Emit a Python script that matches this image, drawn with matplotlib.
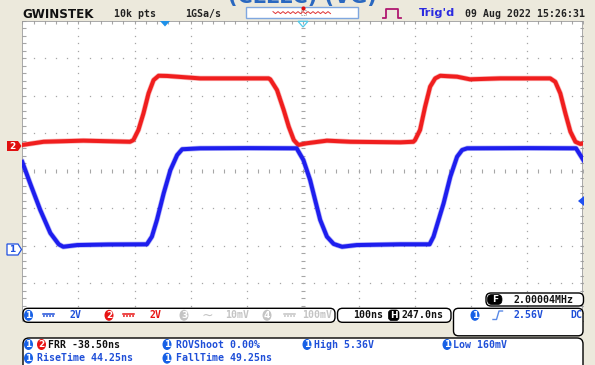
import numpy as np
import matplotlib
matplotlib.use("Agg")
import matplotlib.pyplot as plt
from matplotlib.patches import FancyBboxPatch, Ellipse, Polygon, Rectangle

# ---------------- data ----------------
# CH1 (blue) : time in ns relative to trigger, volts
ch1_t = [-253, -239, -221, -203, -188, -180, -155, -100, -31, -22, -13, -1, 11, 23, 32,
         64, 150, 236, 248, 260, 269, 278, 290, 302, 317, 343, 421, 473, 480, 489, 498,
         510, 522, 531, 540, 650, 734, 747]
ch1_v = [4.56, 3.42, 2.00, 0.77, 0.17, 0.04, 0.13, 0.16, 0.17, 0.58, 1.47, 2.89, 4.13, 4.93, 5.24,
         5.29, 5.30, 5.29, 4.67, 3.60, 2.53, 1.47, 0.58, 0.19, 0.04, 0.13, 0.17, 0.17, 0.58, 1.47, 2.36,
         3.78, 4.84, 5.20, 5.29, 5.30, 5.29, 4.67]
# CH2 (red)
ch2_t = [-253, -215, -144, -61, -55, -46, -37, -28, -19, -10, 5, 64, 186, 189, 201, 213, 222,
         231, 239, 254, 290, 332, 421, 444, 447, 456, 465, 474, 483, 492, 522, 545, 599, 688,
         697, 706, 715, 724, 733, 742, 747]
ch2_v = [0.04, 0.21, 0.27, 0.21, 0.30, 0.84, 1.73, 2.79, 3.50, 3.73, 3.72, 3.59, 3.59, 3.54, 2.97, 1.90, 1.01,
         0.30, 0.04, 0.13, 0.27, 0.21, 0.18, 0.21, 0.30, 0.84, 2.08, 3.15, 3.59, 3.73, 3.68, 3.54, 3.59, 3.59,
         3.41, 2.79, 1.73, 0.75, 0.21, 0.09, 0.13]

channel_ids = ["1", "2", "3", "4"]
channel_scales = ["2V", "2V", "10mV", "100mV"]
timebase = "100ns"
h_position = "247.0ns"
trigger_level = "2.56V"
trigger_coupling = "DC"
frequency = "2.00004MHz"
meas_row1 = [("12", "FRR -38.50ns"), ("1", "ROVShoot 0.00%"), ("1", "High 5.36V"), ("1", "Low 160mV")]
meas_row2 = [("1", "RiseTime 44.25ns"), ("1", "FallTime 49.25ns")]
header = ["10k pts", "1GSa/s", "Trig'd", "09 Aug 2022 15:26:31"]

# screen scales
time_window = (-253, 747)        # ns across 10 divisions
ch1_ylim = (-3.904, 12.096)      # 2 V/div, 8 divisions
ch2_ylim = (-9.333, 6.667)

# ---------------- styling ----------------
W, H = 595, 365
BEIGE = "#ECE9DC"
BLUE = "#1F4FD8"
BADGE_BLUE = "#1660E6"
RED = "#E81414"
GRAY = "#C4C4C4"
GRID = "#A6A6A6"
MONO = dict(family="DejaVu Sans Mono", fontweight="bold", fontsize=7.1)

fig = plt.figure(figsize=(W / 100, H / 100), dpi=100, facecolor=BEIGE)
gx0, gx1, gy0, gy1 = 22.3, 583.3, 20.7, 320.7
rect = [gx0 / W, 1 - gy1 / H, (gx1 - gx0) / W, (gy1 - gy0) / H]

# graticule
ax_g = fig.add_axes(rect, zorder=1)
ax_g.set_xlim(0, 10)
ax_g.set_ylim(-4, 4)
ax_g.set_facecolor("white")
ax_g.set_xticks([])
ax_g.set_yticks([])
for s in ax_g.spines.values():
    s.set_visible(False)
hminor = np.arange(0, 10.001, 0.2)
vminor = np.arange(-4, 4.001, 0.2)
for k in range(1, 10):
    if k != 5:
        ax_g.plot(np.full(vminor.size, k), vminor, ls="none", marker="s", ms=0.9, mew=0, color=GRID)
for j in range(-3, 4):
    if j != 0:
        ax_g.plot(hminor, np.full(hminor.size, j), ls="none", marker="s", ms=0.9, mew=0, color=GRID)
ax_g.plot(np.full(vminor.size, 5), vminor, ls="none", marker="_", ms=2.6, mew=0.8, color=GRID)
ax_g.plot(hminor, np.zeros(hminor.size), ls="none", marker="|", ms=2.6, mew=0.8, color=GRID)
ax_g.plot(np.full(vminor.size, 0.03), vminor, ls="none", marker="_", ms=2.6, mew=0.8, color=GRID)
ax_g.plot(np.full(vminor.size, 9.97), vminor, ls="none", marker="_", ms=2.6, mew=0.8, color=GRID)
ax_g.plot(hminor, np.full(hminor.size, 3.955), ls="none", marker="|", ms=2.6, mew=0.8, color=GRID)
ax_g.axvline(0, color="#9A9A9A", lw=1.2)
ax_g.axvline(10, color="#9A9A9A", lw=1.2)
ax_g.axhline(4, color="#9A9A9A", lw=1.2)

# traces
ax2 = fig.add_axes(rect, zorder=2)
ax2.set_xlim(*time_window)
ax2.set_ylim(*ch2_ylim)
ax2.axis("off")
ax2.plot(ch2_t, ch2_v, color="#F03030", lw=3.9, alpha=0.35, solid_joinstyle="round")
ax2.plot(ch2_t, ch2_v, color="#F01E1E", lw=2.9, solid_joinstyle="round")

ax1 = fig.add_axes(rect, zorder=3)
ax1.set_xlim(*time_window)
ax1.set_ylim(*ch1_ylim)
ax1.axis("off")
ax1.plot(ch1_t, ch1_v, color="#3030F0", lw=3.9, alpha=0.35, solid_joinstyle="round")
ax1.plot(ch1_t, ch1_v, color="#1E1EEE", lw=2.9, solid_joinstyle="round")

# ---------------- overlay (screen chrome, pixel coordinates) ----------------
ov = fig.add_axes([0, 0, 1, 1], zorder=10)
ov.set_xlim(0, W)
ov.set_ylim(H, 0)
ov.axis("off")


def rbox(x, y, w, h, r, fc="white", ec="black", lw=1.0):
    ov.add_patch(FancyBboxPatch((x, y), w, h, boxstyle=f"round,pad=0,rounding_size={r}",
                                fc=fc, ec=ec, lw=lw))


def badge(x, y, n, fc):
    ov.add_patch(Ellipse((x, y), 9, 11, fc=fc, ec="none"))
    ov.text(x, y + 0.3, n, color="white", ha="center", va="center", fontsize=6.5,
            fontweight="bold", family="DejaVu Sans")


def coupling(x, y, c):
    ov.plot([x, x + 11], [y - 1.2, y - 1.2], color=c, lw=1.1)
    ov.plot([x, x + 11], [y + 0.6, y + 0.6], color=c, lw=1.1, ls=(0, (1.2, 0.8)))


# partial title of the page above the screenshot (cropped at the top edge)
ov.text(228, 3.2, "(CLLLC) (VG)", color="#2A68C0", fontsize=15, fontweight="bold",
        ha="left", va="baseline", family="DejaVu Sans")

# header bar
ov.text(22, 14, "GWINSTEK", color="#111111", fontsize=8.6, fontweight="bold", ha="left",
        va="center", family="DejaVu Sans")
ov.text(114.3, 14, header[0], color="#222222", ha="left", va="center", **MONO)
ov.text(185, 14, header[1], color="#222222", ha="left", va="center", **MONO)
ov.add_patch(Rectangle((246, 7), 112, 10.5, fc="white", ec="#7FA7E0", lw=1.0))
zx = np.arange(273, 331, 2.5)
ov.plot(zx, np.where(np.arange(zx.size) % 2 == 0, 11.6, 13.6), color="#E03535", lw=0.7)
ov.add_patch(Rectangle((300.5, 9.5), 5, 5, fc="none", ec="#888888", lw=0.6, ls=(0, (1, 1))))
ov.plot([303], [8.2], marker="o", ms=3, color="#E01010", mew=0)
ov.plot([383, 386, 386, 398, 398, 401], [18, 18, 9, 9, 18, 18], color="#B01870", lw=1.3)
ov.text(419, 13, header[2], color="#2B2BE0", fontsize=8.2, fontweight="bold", ha="left",
        va="center", family="DejaVu Sans")
ov.text(465, 14, header[3], color="#222222", ha="left", va="center", **MONO)

# top position markers
ov.add_patch(Polygon([(160, 21), (170, 21), (165, 26.5)], closed=True, fc="#1E90E8", ec="none"))
ov.add_patch(Polygon([(298, 21.3), (308, 21.3), (303, 27)], closed=True, fc="none", ec="#50C8E8", lw=0.9))

# ground markers
ov.add_patch(Polygon([(7, 141), (18, 141), (21.5, 146), (18, 151), (7, 151)], closed=True,
                     fc="#E01010", ec="none"))
ov.text(12.5, 146.3, channel_ids[1], color="white", fontsize=6.5, fontweight="bold",
        ha="center", va="center")
ov.add_patch(Polygon([(7, 244), (18, 244), (21.5, 249.5), (18, 255), (7, 255)], closed=True,
                     fc="white", ec="#2050E0", lw=0.9))
ov.text(12.5, 249.8, channel_ids[0], color="#2050E0", fontsize=6.5, fontweight="bold",
        ha="center", va="center")
# trigger level marker
ov.add_patch(Polygon([(578, 201), (584, 196), (584, 206)], closed=True, fc="#1E50F0", ec="none"))

# frequency box
rbox(486, 293, 97.5, 13, 5)
rbox(487.5, 294.5, 14.5, 10, 4.5, fc="black", ec="black", lw=0.5)
ov.text(494.8, 299.8, "F", color="white", fontsize=6.5, fontweight="bold", ha="center", va="center")
ov.text(513, 299.8, frequency, color="#111111", ha="left", va="center", **MONO)

# channel bar
cy = 315.3
rbox(23, 308.3, 312, 14, 5)
badge(28.5, cy, channel_ids[0], BADGE_BLUE)
coupling(43, cy, BLUE)
ov.text(70, cy, channel_scales[0], color=BLUE, ha="left", va="center", **MONO)
badge(109, cy, channel_ids[1], RED)
coupling(123, cy, RED)
ov.text(150, cy, channel_scales[1], color=RED, ha="left", va="center", **MONO)
badge(184, cy, channel_ids[2], GRAY)
ov.text(207, cy, "~", color=GRAY, ha="center", va="center", fontsize=10)
ov.text(225, cy, channel_scales[2], color=GRAY, ha="left", va="center", **MONO)
badge(267, cy, channel_ids[3], GRAY)
coupling(284, cy, GRAY)
ov.text(302, cy, channel_scales[3], color=GRAY, ha="left", va="center", **MONO)

rbox(337.5, 308.3, 113.5, 14, 5)
ov.text(353, cy, timebase, color="#111111", ha="left", va="center", **MONO)
rbox(388.5, 310, 10.5, 10.5, 3, fc="black", ec="black", lw=0.5)
ov.text(393.8, cy + 0.2, "H", color="white", fontsize=6.5, fontweight="bold", ha="center", va="center")
ov.text(402, cy, h_position, color="#111111", ha="left", va="center", **MONO)

rbox(453.5, 308.3, 129.5, 27.5, 5)
badge(475, cy, channel_ids[0], BADGE_BLUE)
ov.plot([493, 496.5, 499, 502.5], [319.5, 319.5, 311, 311], color="#5A8AE6", lw=1.0)
ov.text(513, cy, trigger_level, color=BLUE, ha="left", va="center", **MONO)
ov.text(570, cy, trigger_coupling, color=BLUE, ha="left", va="center", **MONO)

# measurement panel
rbox(23, 338, 560, 40, 6)
row_y = [344.5, 358.2]
xs1 = [(28.5, 48.3), (167, 176), (307, 314), (447, 453)]
for (ids, txt), (bx, tx) in zip(meas_row1, xs1):
    if ids == "12":
        badge(bx, row_y[0], "1", BADGE_BLUE)
        badge(bx + 13, row_y[0], "2", RED)
        ov.text(tx, row_y[0], txt, color="#111111", ha="left", va="center", **MONO)
    else:
        badge(bx, row_y[0], ids, BADGE_BLUE)
        ov.text(tx, row_y[0], txt, color=BLUE, ha="left", va="center", **MONO)
xs2 = [(28.5, 37), (167, 176)]
for (ids, txt), (bx, tx) in zip(meas_row2, xs2):
    badge(bx, row_y[1], ids, BADGE_BLUE)
    ov.text(tx, row_y[1], txt, color=BLUE, ha="left", va="center", **MONO)

fig.savefig("out.png", dpi=100, facecolor=BEIGE)
